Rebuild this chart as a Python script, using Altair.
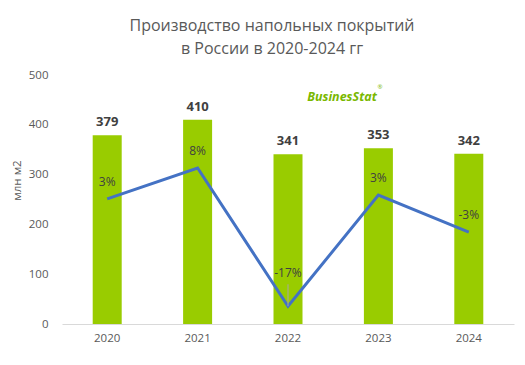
import altair as alt
import pandas as pd

years = ["2020", "2021", "2022", "2023", "2024"]
volume = [379, 410, 341, 353, 342]
growth = [2.6, 8.2, -16.8, 3.3, -3.4]
growth_labels = ["3%", "8%", "-17%", "3%", "-3%"]

df = pd.DataFrame({"year": years, "volume": volume, "growth": growth, "glabel": growth_labels})
logo_df = pd.DataFrame({"t": ["BusinesStat"]})

FONT = "Open Sans"
TXT = "#595959"

x = alt.X("year:N", title=None, scale=alt.Scale(paddingInner=0.68, paddingOuter=0.34),
          axis=alt.Axis(labelAngle=0, ticks=False, domainColor="#D9D9D9", domainWidth=1.2,
                        labelColor=TXT, labelFontSize=11.5, labelFont=FONT, labelPadding=8))

yl = alt.Y("volume:Q", title="млн  м2", scale=alt.Scale(domain=[0, 500]),
           axis=alt.Axis(values=[0, 100, 200, 300, 400, 500], grid=False, domain=False, ticks=False,
                         labelColor=TXT, labelFontSize=11.5, labelFont=FONT, labelPadding=14,
                         titleColor=TXT, titleFontSize=11.5, titleFont=FONT, titleFontWeight="normal",
                         titleAngle=-90, titleX=-45, titleY=105, titleAlign="center",
                         titleBaseline="middle"))

base = alt.Chart(df)

bars = base.mark_bar(color="#99CC00", size=29).encode(x=x, y=yl)
bar_labels = base.mark_text(dy=-6, baseline="bottom", fontWeight="bold", fontSize=13,
                            color="#404040", font=FONT).encode(x=x, y=yl, text="volume:Q")
logo = alt.Chart(logo_df).mark_text(fontStyle="italic", fontWeight="bold", fontSize=12.5,
                                    color="#7AB800", font=FONT, align="center",
                                    baseline="middle").encode(
    x=alt.value(280), y=alt.value(22), text="t:N")
logo_r = alt.Chart(logo_df).mark_text(text="®", fontSize=6, color="#7AB800", font=FONT).encode(
    x=alt.value(318), y=alt.value(12))

left = alt.layer(bars, bar_labels, logo, logo_r)

yr = alt.Y("growth:Q", scale=alt.Scale(domain=[-20, 25]), axis=None)
line = base.mark_line(color="#4472C4", strokeWidth=3).encode(x=x, y=yr)
leader = base.mark_rule(color="#A6A6A6", strokeWidth=1, y2Offset=-22).encode(
    x=x, y=yr, y2="growth:Q").transform_filter(alt.datum.year == "2022")
pct_main = base.mark_text(dy=-17, fontSize=12, color="#404040", font=FONT).encode(
    x=x, y=yr, text="glabel:N").transform_filter(alt.datum.year != "2022")
pct_2022 = base.mark_text(dy=-33, fontSize=12, color="#404040", font=FONT).encode(
    x=x, y=yr, text="glabel:N").transform_filter(alt.datum.year == "2022")

right = alt.layer(line, leader, pct_main, pct_2022)

chart = alt.layer(left, right).resolve_scale(y="independent").properties(
    width=452, height=249,
    autosize=alt.AutoSizeParams(type="none"),
    padding={"left": 54, "top": 67, "right": 3, "bottom": 33},
    title=alt.TitleParams(["Производство напольных покрытий", "в России в 2020-2024 гг"],
                          font=FONT, fontSize=16, fontWeight="normal", color=TXT,
                          anchor="middle", dx=-16, offset=12, lineHeight=23),
).configure_view(stroke=None)

chart.save("out.html", embed_options={"renderer": "svg", "actions": False})
